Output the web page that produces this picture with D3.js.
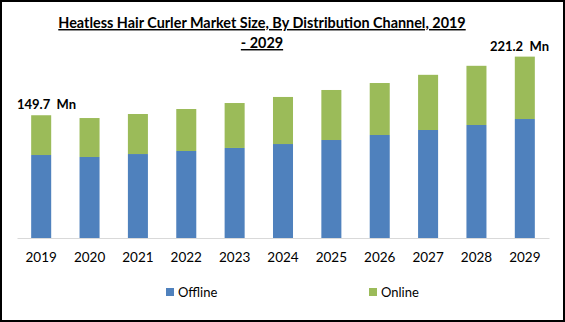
<!DOCTYPE html>
<html><head><meta charset="utf-8">
<script src="https://cdn.jsdelivr.net/npm/d3@7"></script>
<style>body{margin:0;background:#fff}svg{display:block}text{font-family:Lato,"Open Sans",sans-serif;white-space:pre}</style>
</head><body><svg id="c" width="565" height="322"></svg>
<script>
const years = ["2019","2020","2021","2022","2023","2024","2025","2026","2027","2028","2029"];
const offline = [101.2, 98.8, 102.4, 106.1, 109.8, 114.6, 119.5, 125.6, 131.7, 137.8, 145.1];
const online = [48.5, 47.5, 48.8, 51.2, 54.8, 57.4, 61.0, 63.4, 67.3, 72.2, 76.1];
const series = ["Offline", "Online"];
const colors = ["#4f81bd", "#9bbb59"];
const annotations = [{i:0, text:"149.7  Mn"}, {i:10, text:"221.2  Mn"}];
const titleLines = ["Heatless Hair Curler Market Size, By Distribution Channel, 2019", "- 2029"];

const svg = d3.select("#c");
svg.append("rect").attr("x",1).attr("y",1).attr("width",563).attr("height",320).attr("fill","#fff").attr("stroke","#000").attr("stroke-width",2);

const x = d3.scaleBand().domain(years).range([17,549]).paddingInner(0.586).paddingOuter(0.293);
const y = d3.scaleLinear().domain([0,250]).range([238, 238-0.82*250]);

const data = years.map((yr,i)=>({year:yr, Offline:offline[i], Online:online[i]}));
const stacked = d3.stack().keys(series)(data);

svg.append("g").selectAll("g").data(stacked).join("g").attr("fill",(d,i)=>colors[i])
 .selectAll("rect").data(d=>d).join("rect")
 .attr("x",d=>x(d.data.year)).attr("width",x.bandwidth())
 .attr("y",d=>y(d[1])).attr("height",d=>y(d[0])-y(d[1]));

const ax = svg.append("g").attr("transform","translate(0,238)").call(d3.axisBottom(x).tickSize(0).tickPadding(14));
ax.select(".domain").attr("stroke","#d9d9d9");
ax.selectAll("text").attr("font-size",13.5).attr("fill","#000").style("font-family","Lato");

svg.selectAll(".ann").data(annotations).join("text").attr("class","ann")
 .attr("x",(d,i)=>i===0 ? 17 : 549).attr("y",d=>y(offline[d.i]+online[d.i])-6)
 .attr("text-anchor",(d,i)=>i===0 ? "start" : "end").attr("font-size",13).attr("font-weight","bold").text(d=>d.text);

svg.selectAll(".title").data(titleLines).join("text").attr("class","title")
 .attr("x",262).attr("y",(d,i)=>28+i*20).attr("text-anchor","middle")
 .attr("font-size",14.4).attr("font-weight","bold").attr("text-decoration","underline").text(d=>d);

const lg = svg.append("g");
const lx = [166,369];
series.forEach((s,i)=>{
  lg.append("rect").attr("x",lx[i]).attr("y",288).attr("width",8).attr("height",8).attr("fill",colors[i]);
  lg.append("text").attr("x",lx[i]+12).attr("y",297).attr("font-size",13).text(s);
});
</script></body></html>
